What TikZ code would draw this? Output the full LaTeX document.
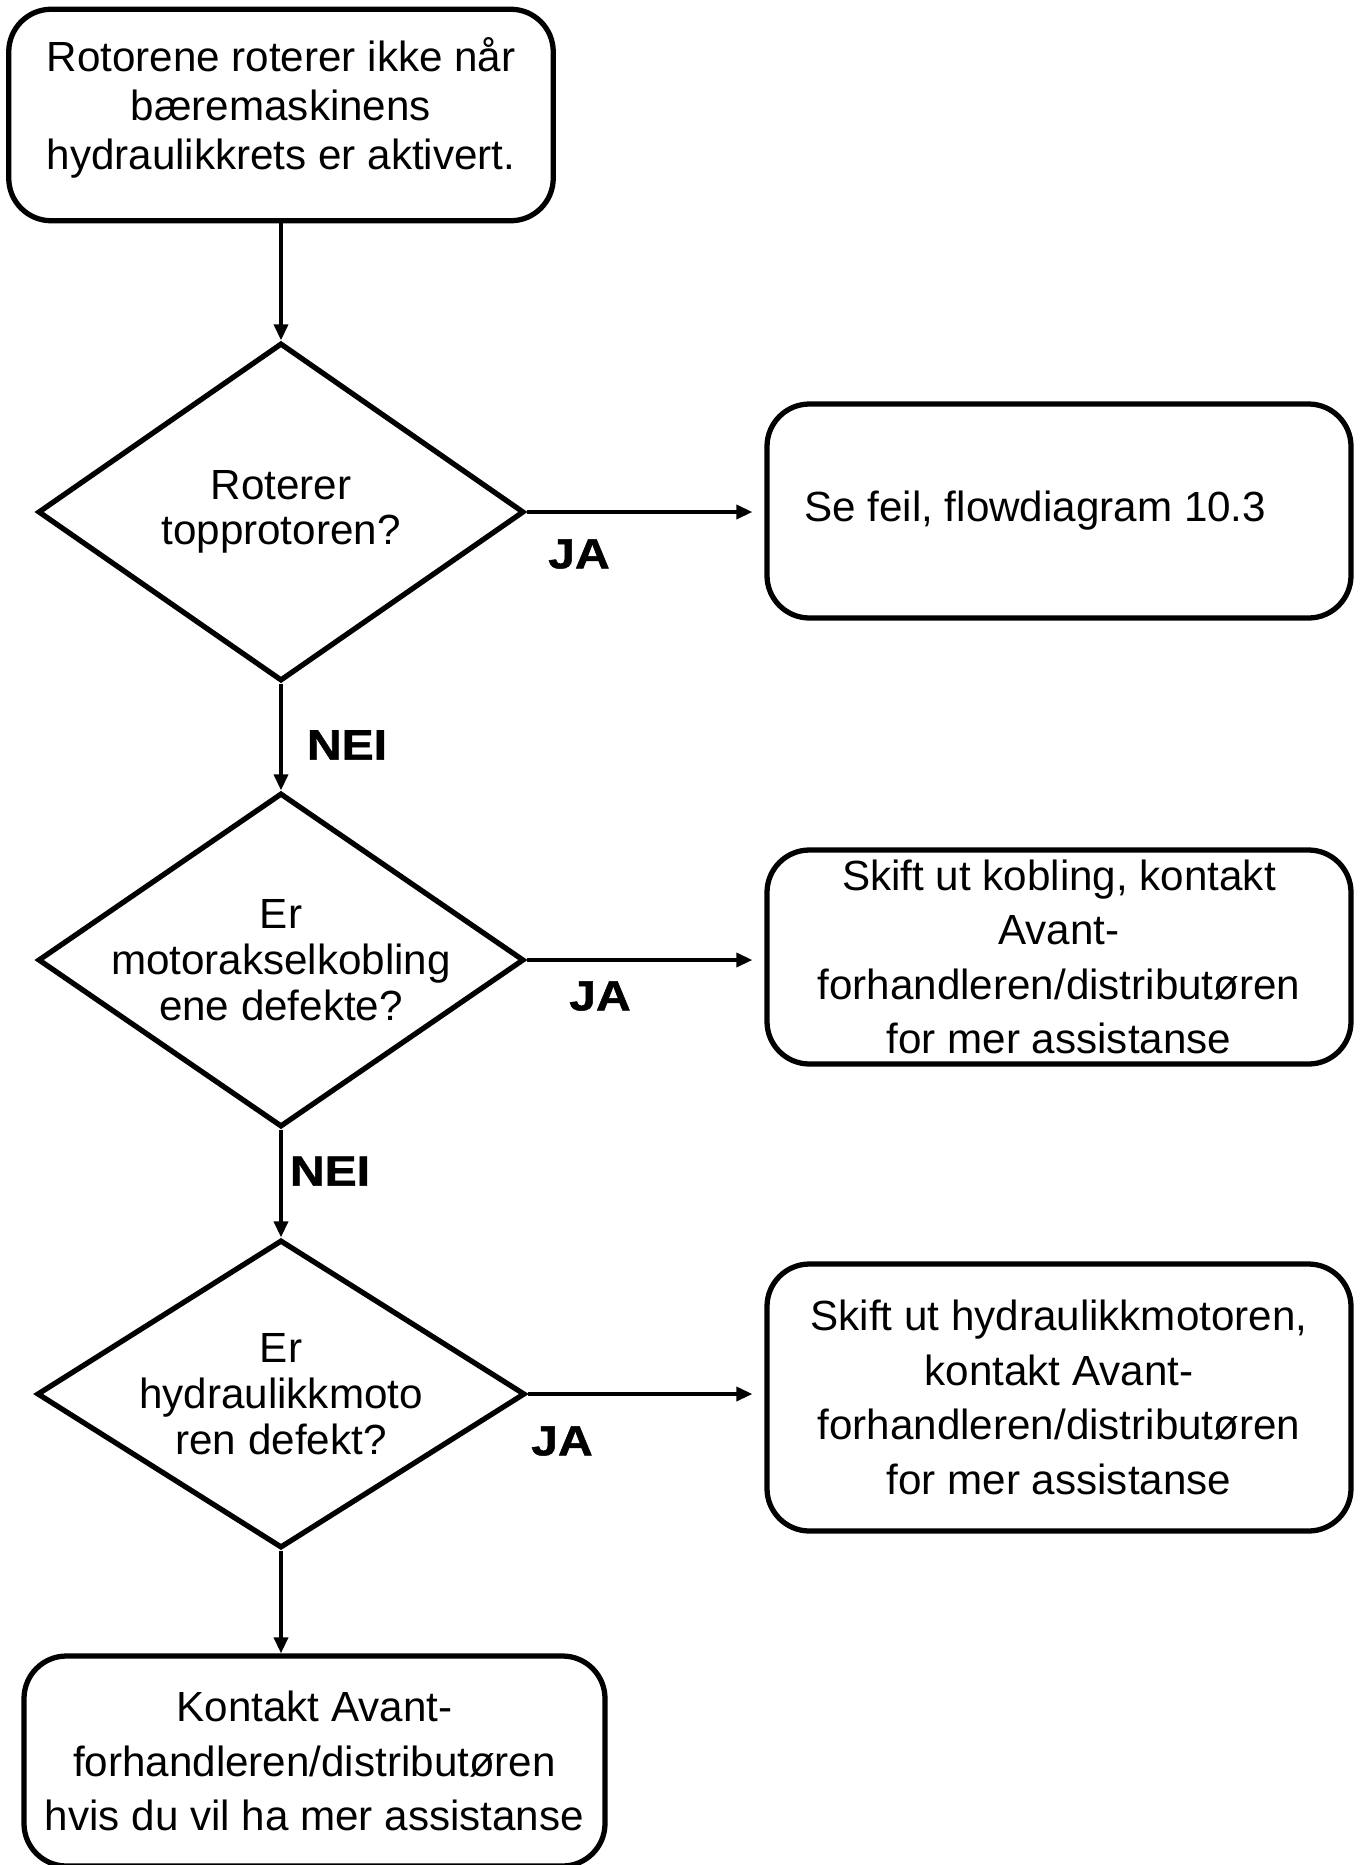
\documentclass[tikz,border=0pt]{standalone}
\usepackage{fontspec}
\setmainfont{Liberation Sans}
\newfontfamily\answerfont[FakeStretch=1.14,FakeBold=1.2]{Liberation Sans}
\usetikzlibrary{shapes.geometric,arrows.meta}

\tikzset{%
  every step box/.style={
    rectangle,
    draw,
    line width=3pt,
    rounded corners=0.85cm,
    align=center,
    inner sep=0pt,
    font=\fontsize{24}{31}\selectfont
  },
  every question/.style={
    diamond,
    draw,
    line width=3pt,
    align=center,
    inner xsep=-1.6cm,
    inner ysep=0pt,
    font=\fontsize{24}{26}\selectfont
  },
  answer/.style={
    font=\answerfont\bfseries\fontsize{24}{28}\selectfont
  },
  flow arrow/.style={
    -{Triangle[length=0.32cm,width=0.28cm]},
    line width=2pt
  },
}

\begin{document}
\begin{tikzpicture}
  \useasboundingbox (0,0) rectangle (27.18,-37.3);
  \node [every step box, minimum width=10.89cm, minimum height=4.23cm,
         font=\fontsize{24}{28}\selectfont] (start) at (5.62,-2.3)
        {Rotorene roterer ikke når\\bæremaskinens\\hydraulikkrets er aktivert.\\[-0.53cm]};
  \node [every question, minimum width=9.72cm, minimum height=6.76cm] (q-1) at (5.62,-10.24) {Roterer\\topprotoren?};
  \node [every question, minimum width=9.72cm, minimum height=6.68cm] (q-2) at (5.62,-19.2) {Er\\motorakselkobling\\ene defekte?};
  \node [every question, minimum width=9.76cm, minimum height=6.16cm] (q-3) at (5.62,-27.88) {Er\\hydraulikkmoto\\ren defekt?};
  \node [every step box, minimum width=11.68cm, minimum height=4.28cm] (a-1) at (21.18,-10.22) {Se feil, flowdiagram 10.3\hspace*{0.95cm}};
  \node [every step box, minimum width=11.68cm, minimum height=4.28cm] (a-2) at (21.18,-19.14)
        {Skift ut kobling, kontakt\\Avant-\\forhandleren/distributøren\\for mer assistanse};
  \node [every step box, minimum width=11.68cm, minimum height=5.34cm] (a-3) at (21.18,-27.95)
        {Skift ut hydraulikkmotoren,\\kontakt Avant-\\forhandleren/distributøren\\for mer assistanse};
  \node [every step box, minimum width=11.62cm, minimum height=4.2cm] (end) at (6.29,-35.22)
        {Kontakt Avant-\\forhandleren/distributøren\\hvis du vil ha mer assistanse};
  \node [answer] (JA1) at (11.58,-11.08) {JA};
  \node [answer] (NEI1) at (6.94,-14.9) {NEI};
  \node [answer] (JA2) at (12.0,-19.92) {JA};
  \node [answer] (NEI2) at (6.6,-23.42) {NEI};
  \node [answer] (JA3) at (11.24,-28.82) {JA};
\draw [flow arrow] (start) -- (q-1);
\draw [flow arrow, shorten >=0.24cm] (q-1.east) -- (q-1.east -| a-1.west);
\draw [flow arrow] (q-1) -- (q-2);
\draw [flow arrow, shorten >=0.24cm] (q-2.east) -- (q-2.east -| a-2.west);
\draw [flow arrow] (q-2) -- (q-3);
\draw [flow arrow, shorten >=0.24cm] (q-3.east) -- (q-3.east -| a-3.west);
\draw [flow arrow] (q-3.south) -- (q-3.south |- end.north);
\end{tikzpicture}
\end{document}
